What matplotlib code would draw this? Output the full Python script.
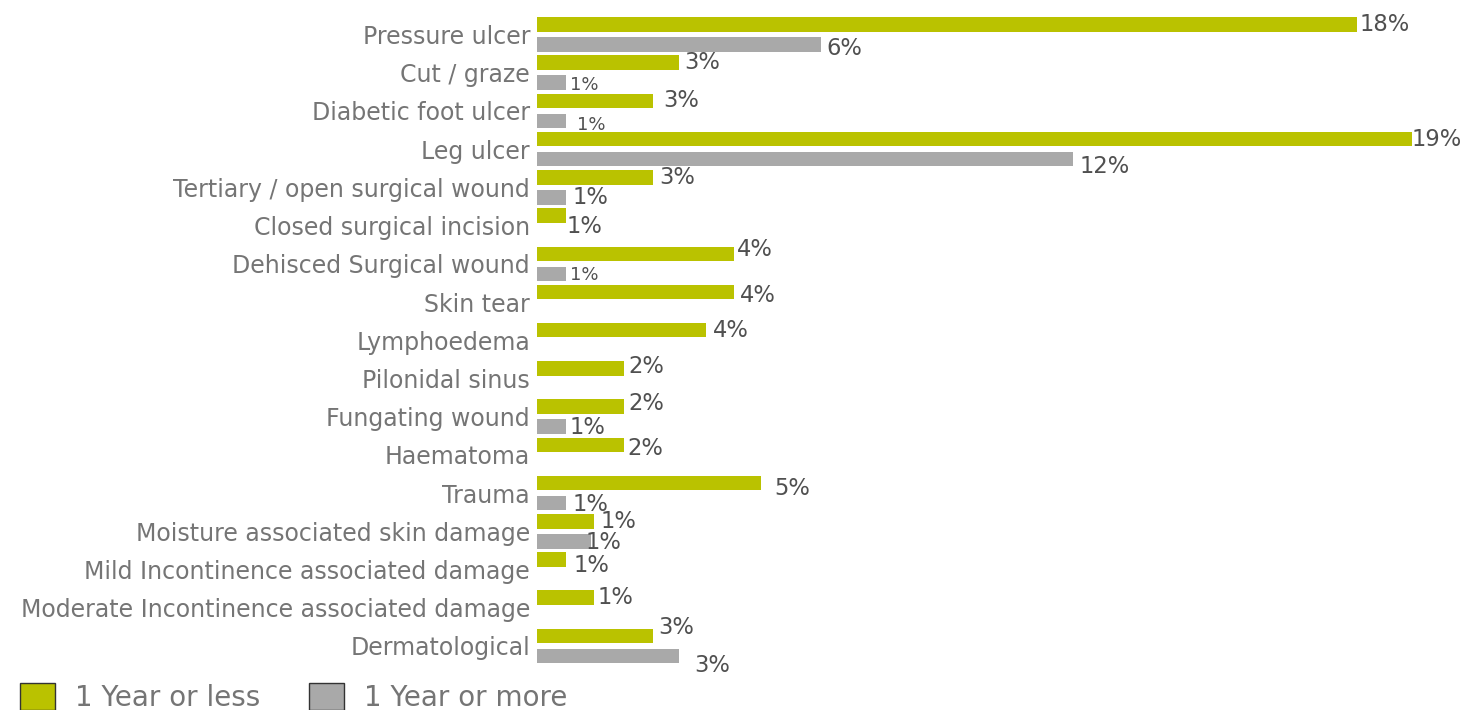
import numpy as np
import matplotlib
matplotlib.use("Agg")
import matplotlib.pyplot as plt
from matplotlib.patches import Patch

categories = [
    "Pressure ulcer", "Cut / graze", "Diabetic foot ulcer", "Leg ulcer",
    "Tertiary / open surgical wound", "Closed surgical incision",
    "Dehisced Surgical wound", "Skin tear", "Lymphoedema", "Pilonidal sinus",
    "Fungating wound", "Haematoma", "Trauma",
    "Moisture associated skin damage", "Mild Incontinence associated damage",
    "Moderate Incontinence associated damage", "Dermatological",
]
# Share of wounds (%) by duration
one_year_or_less = [17.9, 3.1, 2.54, 19.1, 2.54, 0.63, 4.3, 4.3, 3.7, 1.9,
                    1.9, 1.9, 4.9, 1.25, 0.63, 1.25, 2.54]
one_year_or_more = [6.2, 0.63, 0.63, 11.7, 0.63, None, 0.63, None, None, None,
                    0.63, None, 0.63, 1.18, None, None, 3.1]
series_names = ["1 Year or less", "1 Year or more"]

# Label nudges in pixels (dx, dy downward) and small-font flags
less_nudge = [(3, 0), (5, 0), (10, 0), (0, 0), (6, 0), (1, 11), (3, -4), (6, 3),
              (6, 0), (4, -2), (4, -3), (3, 4), (13, 5), (6, 0), (8, 6), (3, 0), (5, -8)]
more_nudge = [(5, 4), (4, 2), (11, 4), (7, 7), (7, 0), None, (4, 1), None,
              None, None, (4, 1), None, (7, 1), (-5, 1), None, None, (15, 9)]
more_small = [False, True, True, False, False, False, True, False,
              False, False, False, False, False, False, False, False, False]

GREEN = "#BAC200"
GREY = "#A9A9A9"
LABEL_COL = "#505050"
CAT_COL = "#757575"

fig = plt.figure(figsize=(14.63, 7.10), dpi=100)
ax = fig.add_axes([537 / 1463, 1 - 665.1 / 710, 916 / 1463, (665.1 - 15.4) / 710])

y = np.arange(len(categories))
off = 0.262
h = 0.38

g = [v if v is not None else np.nan for v in one_year_or_less]
m = [v if v is not None else np.nan for v in one_year_or_more]
ax.barh(y - off, g, height=h, color=GREEN, linewidth=0)
ax.barh(y + off, m, height=h, color=GREY, linewidth=0)

VAL_FS = 16.3
SMALL_FS = 13

for i, v in enumerate(one_year_or_less):
    dx, dy = less_nudge[i]
    ax.annotate(f"{v:.0f}%", xy=(v, y[i] - off), xytext=(dx, -dy),
                textcoords="offset pixels", ha="left", va="center",
                fontsize=VAL_FS, color=LABEL_COL, annotation_clip=False)
for i, v in enumerate(one_year_or_more):
    if v is None:
        continue
    dx, dy = more_nudge[i]
    ax.annotate(f"{v:.0f}%", xy=(v, y[i] + off), xytext=(dx, -dy),
                textcoords="offset pixels", ha="left", va="center",
                fontsize=SMALL_FS if more_small[i] else VAL_FS, color=LABEL_COL,
                annotation_clip=False)

ax.set_xlim(0, 20)
ax.set_ylim(len(categories) - 0.5, -0.5)
ax.set_yticks(y)
ax.set_yticklabels(categories, fontsize=17, color=CAT_COL)
ax.tick_params(axis="y", length=0, pad=5)
ax.set_xticks([])
for s in ax.spines.values():
    s.set_visible(False)

handles = [Patch(facecolor=GREEN, edgecolor="#333333", linewidth=1),
           Patch(facecolor=GREY, edgecolor="#333333", linewidth=1)]
fig.legend(handles, series_names, loc="lower left",
           bbox_to_anchor=(20 / 1463, -2 / 710), borderaxespad=0, borderpad=0,
           ncol=2, frameon=False, fontsize=20, labelcolor=CAT_COL,
           handlelength=1.26, handleheight=1.15, handletextpad=0.72,
           columnspacing=1.76)

fig.savefig("out.png", dpi=100)
